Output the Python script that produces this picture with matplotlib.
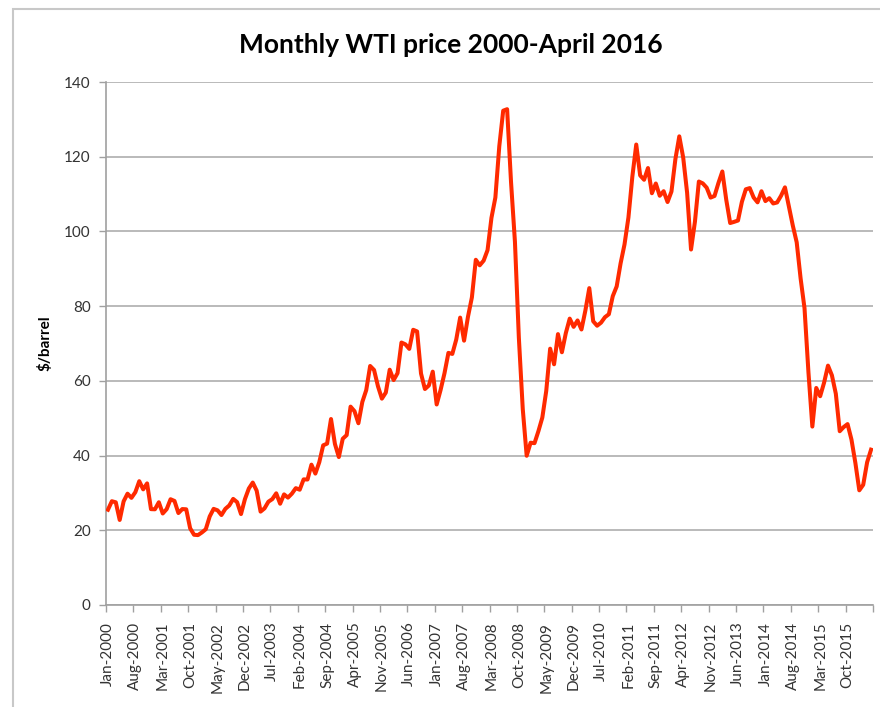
import matplotlib
matplotlib.use('Agg')
import matplotlib.pyplot as plt
from matplotlib.patches import Rectangle
import numpy as np

# Monthly prices ($/barrel), one list per year
price_2000 = [25.51, 27.78, 27.49, 22.76, 27.74, 29.80, 28.68, 30.20, 33.14, 30.96, 32.55, 25.66]
price_2001 = [25.62, 27.50, 24.50, 25.66, 28.31, 27.85, 24.61, 25.68, 25.62, 20.54, 18.80, 18.71]
price_2002 = [19.42, 20.28, 23.70, 25.73, 25.35, 24.08, 25.74, 26.65, 28.40, 27.54, 24.34, 28.33]
price_2003 = [31.18, 32.77, 30.61, 25.00, 25.86, 27.65, 28.35, 29.89, 27.11, 29.61, 28.75, 29.81]
price_2004 = [31.28, 30.86, 33.63, 33.59, 37.57, 35.18, 38.22, 42.74, 43.20, 49.78, 43.11, 39.60]
price_2005 = [44.51, 45.48, 53.10, 51.88, 48.65, 54.35, 57.52, 63.98, 62.91, 58.54, 55.24, 56.86]
price_2006 = [62.99, 60.21, 62.06, 70.26, 69.78, 68.56, 73.67, 73.23, 61.96, 57.81, 58.76, 62.47]
price_2007 = [53.68, 57.56, 62.05, 67.49, 67.21, 71.05, 76.93, 70.76, 77.17, 82.34, 92.41, 90.93]
price_2008 = [92.18, 94.99, 103.64, 109.07, 122.80, 132.32, 132.72, 113.24, 97.23, 71.58, 52.45, 39.95]
price_2009 = [43.44, 43.32, 46.54, 50.18, 57.30, 68.61, 64.44, 72.51, 67.65, 72.77, 76.66, 74.46]
price_2010 = [76.17, 73.75, 78.83, 84.82, 75.95, 74.76, 75.58, 77.04, 77.84, 82.67, 85.28, 91.45]
price_2011 = [96.52, 103.72, 114.64, 123.26, 114.99, 113.83, 116.97, 110.22, 112.83, 109.55, 110.77, 107.87]
price_2012 = [110.69, 119.33, 125.45, 119.75, 110.34, 95.16, 102.62, 113.36, 112.86, 111.71, 109.06, 109.49]
price_2013 = [112.96, 116.05, 108.47, 102.25, 102.56, 102.92, 107.93, 111.28, 111.60, 109.08, 107.79, 110.76]
price_2014 = [108.12, 108.90, 107.48, 107.76, 109.54, 111.80, 106.77, 101.61, 97.09, 87.43, 79.44, 62.34]
price_2015 = [47.76, 58.10, 55.89, 59.52, 64.08, 61.48, 56.56, 46.52, 47.62, 48.43, 44.27, 38.01]
price_2016 = [30.70, 32.18, 38.21, 41.58]

# Category labels shown on the x axis (every 7th month)
tick_labels = ['Jan-2000', 'Aug-2000', 'Mar-2001', 'Oct-2001', 'May-2002', 'Dec-2002',
               'Jul-2003', 'Feb-2004', 'Sep-2004', 'Apr-2005', 'Nov-2005', 'Jun-2006',
               'Jan-2007', 'Aug-2007', 'Mar-2008', 'Oct-2008', 'May-2009', 'Dec-2009',
               'Jul-2010', 'Feb-2011', 'Sep-2011', 'Apr-2012', 'Nov-2012', 'Jun-2013',
               'Jan-2014', 'Aug-2014', 'Mar-2015', 'Oct-2015']
label_step = 7

plt.rcParams['font.family'] = ['Lato', 'DejaVu Sans']


def build_series():
    return (price_2000 + price_2001 + price_2002 + price_2003 + price_2004 + price_2005 +
            price_2006 + price_2007 + price_2008 + price_2009 + price_2010 + price_2011 +
            price_2012 + price_2013 + price_2014 + price_2015 + price_2016)


def create_price_plot(prices):
    W, H = 880, 707
    fig = plt.figure(figsize=(W / 100, H / 100), dpi=100)

    # light frame around the chart, like the Excel chart area
    fig.patches.append(Rectangle((13 / W, -0.05), 1.2, 1 - 9 / H + 0.05, transform=fig.transFigure,
                                 fill=False, edgecolor='#c8c8c8', linewidth=1.5))

    left, right, top, bottom = 106, 873, 82, 605
    ax = fig.add_axes([left / W, 1 - bottom / H, (right - left) / W, (bottom - top) / H])

    n = len(prices)
    x = np.arange(n)
    ax.plot(x, prices, color='#ff2a00', linewidth=2.9, solid_joinstyle='round', zorder=3)

    ax.set_xlim(-0.5, n - 0.5)
    ax.set_ylim(0, 140)
    ax.set_yticks(range(0, 141, 20))
    ax.yaxis.grid(True, color='#b4b4b4', linewidth=1.3)
    ax.set_axisbelow(True)

    # labels centred on their month, tick marks on the category boundaries
    ax.set_xticks(np.arange(0, n, label_step)[:len(tick_labels)])
    ax.set_xticklabels(tick_labels, rotation=90, fontsize=11, color='#333333')
    ax.set_xticks(np.arange(-0.5, n, label_step), minor=True)
    ax.tick_params(axis='x', which='major', length=0, pad=12)
    ax.tick_params(axis='x', which='minor', length=5, color='#a0a0a0', width=1)
    ax.tick_params(axis='y', length=5, color='#a0a0a0', width=1, labelsize=11,
                   labelcolor='#333333', pad=6)

    for side in ['top', 'right']:
        ax.spines[side].set_visible(False)
    for side in ['left', 'bottom']:
        ax.spines[side].set_color('#a0a0a0')
        ax.spines[side].set_linewidth(1.2)

    ax.set_ylabel('$/barrel', fontsize=11, fontweight='bold')
    ax.yaxis.set_label_coords((52 - left) / (right - left), 0.5)
    fig.text(451 / W, 1 - 45 / H, 'Monthly WTI price 2000-April 2016', ha='center', va='center',
             fontsize=19, fontweight='bold')

    fig.savefig('out.png', dpi=100)


def main():
    prices = build_series()
    create_price_plot(prices)


if __name__ == "__main__":
    main()
